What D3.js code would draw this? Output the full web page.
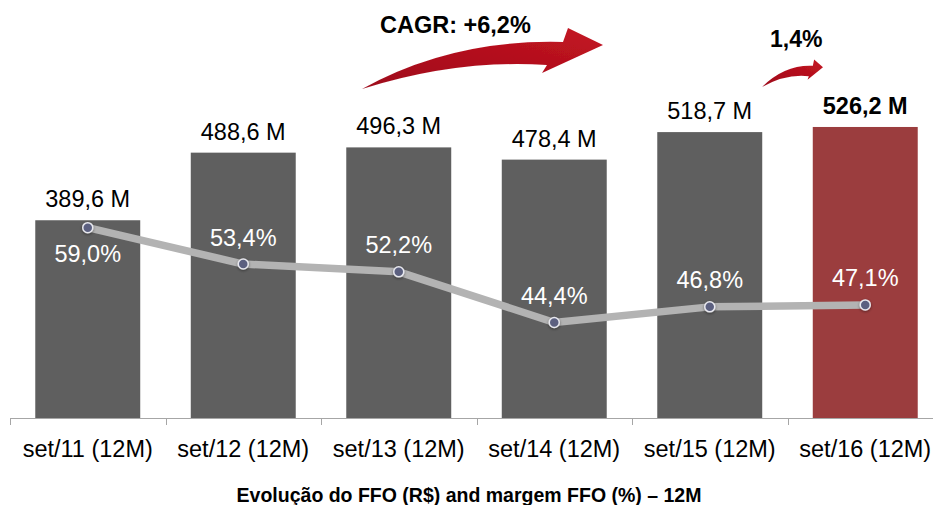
<!DOCTYPE html>
<html>
<head>
<meta charset="utf-8">
<script src="https://cdn.jsdelivr.net/npm/d3@7"></script>
<style>
  html, body { margin: 0; padding: 0; background: #ffffff; }
  svg { display: block; font-family: "Liberation Sans", Arial, sans-serif; }
</style>
</head>
<body>
<svg id="chart" width="933" height="505"></svg>
<script>
// FFO per 12-month period (R$ millions) and FFO margin (%)
const categories = ["set/11 (12M)", "set/12 (12M)", "set/13 (12M)", "set/14 (12M)", "set/15 (12M)", "set/16 (12M)"];
const ffoValues = [389.6, 488.6, 496.3, 478.4, 518.7, 526.2];
const ffoLabels = ["389,6 M", "488,6 M", "496,3 M", "478,4 M", "518,7 M", "526,2 M"];
const marginValues = [59.0, 53.4, 52.2, 44.4, 46.8, 47.1];
const marginLabels = ["59,0%", "53,4%", "52,2%", "44,4%", "46,8%", "47,1%"];
const cagrLabel = "CAGR: +6,2%";
const lastGrowthLabel = "1,4%";
const title = "Evolução do FFO (R$) and margem FFO (%) – 12M";

const svg = d3.select("#chart");
const baseY = 418;

const x = d3.scaleBand()
  .domain(categories)
  .range([10, 943])
  .paddingInner(0.325)
  .paddingOuter(0.1625);

const y = d3.scaleLinear().domain([100, 700]).range([baseY, 8.3]);
const yMargin = d3.scaleLinear().domain([20, 60]).range([480.8, 221.2]);

const cx = d => x(d) + x.bandwidth() / 2;

// defs: arrow gradient and marker shadow
const defs = svg.append("defs");
const grad = defs.append("linearGradient").attr("id", "arrowGrad")
  .attr("x1", "0").attr("y1", "1").attr("x2", "1").attr("y2", "0");
grad.append("stop").attr("offset", "0").attr("stop-color", "#9e0f1c");
grad.append("stop").attr("offset", "0.6").attr("stop-color", "#b5101e");
grad.append("stop").attr("offset", "1").attr("stop-color", "#c41622");
const soft = defs.append("filter").attr("id", "soft").attr("x", "-10%").attr("y", "-10%").attr("width", "120%").attr("height", "120%");
soft.append("feGaussianBlur").attr("stdDeviation", 0.6);
const shadow = defs.append("filter").attr("id", "dotShadow").attr("x", "-100%").attr("y", "-100%").attr("width", "300%").attr("height", "300%");
shadow.append("feGaussianBlur").attr("in", "SourceAlpha").attr("stdDeviation", 1.6).attr("result", "b");
shadow.append("feOffset").attr("in", "b").attr("dx", 0).attr("dy", 1).attr("result", "o");
shadow.append("feComponentTransfer").attr("in", "o").attr("result", "s")
  .append("feFuncA").attr("type", "linear").attr("slope", 0.45);
const merge = shadow.append("feMerge");
merge.append("feMergeNode").attr("in", "s");
merge.append("feMergeNode").attr("in", "SourceGraphic");

// bars
svg.append("g").selectAll("rect")
  .data(categories)
  .join("rect")
  .attr("x", d => x(d))
  .attr("y", (d, i) => y(ffoValues[i]))
  .attr("width", x.bandwidth())
  .attr("height", (d, i) => baseY - y(ffoValues[i]))
  .attr("fill", (d, i) => i === categories.length - 1 ? "#9b3d3e" : "#5f5f5f");

// bar value labels
svg.append("g").selectAll("text")
  .data(categories)
  .join("text")
  .attr("x", d => cx(d))
  .attr("y", (d, i) => y(ffoValues[i]) - 13)
  .attr("text-anchor", "middle")
  .attr("font-size", 23.5)
  .attr("font-weight", (d, i) => i === categories.length - 1 ? "bold" : "normal")
  .attr("fill", "#000")
  .text((d, i) => ffoLabels[i]);

// category axis
const axisG = svg.append("g").attr("transform", `translate(0,${baseY})`);
axisG.append("line")
  .attr("x1", 10).attr("x2", 943).attr("y1", 0.5).attr("y2", 0.5)
  .attr("stroke", "#a6a6a6").attr("stroke-width", 1);
const step = x.step();
const boundaries = categories.map(d => x(d) - x.paddingInner() * step / 2).concat([x.range()[1]]);
axisG.selectAll("line.tick")
  .data(boundaries)
  .join("line")
  .attr("class", "tick")
  .attr("x1", d => Math.round(d) + 0.5).attr("x2", d => Math.round(d) + 0.5)
  .attr("y1", 0).attr("y2", 7)
  .attr("stroke", "#a6a6a6");
axisG.selectAll("text")
  .data(categories)
  .join("text")
  .attr("x", d => cx(d))
  .attr("y", 39)
  .attr("text-anchor", "middle")
  .attr("font-size", 23.5)
  .attr("fill", "#000")
  .text(d => d);

// margin line
const line = d3.line()
  .x((d, i) => cx(categories[i]))
  .y(d => yMargin(d));
svg.append("path")
  .datum(marginValues)
  .attr("d", line)
  .attr("fill", "none")
  .attr("stroke", "#b3b3b3")
  .attr("stroke-width", 7.5)
  .attr("stroke-linejoin", "round");

svg.append("g").selectAll("circle")
  .data(marginValues)
  .join("circle")
  .attr("cx", (d, i) => cx(categories[i]))
  .attr("cy", d => yMargin(d))
  .attr("r", 5)
  .attr("fill", "#5b6180")
  .attr("stroke", "#e8e8ee")
  .attr("stroke-width", 1.5)
  .attr("filter", "url(#dotShadow)");

// margin labels (first one sits below its point)
svg.append("g").selectAll("text")
  .data(marginValues)
  .join("text")
  .attr("x", (d, i) => cx(categories[i]))
  .attr("y", (d, i) => yMargin(d) + (i === 0 ? 34 : -18.5))
  .attr("text-anchor", "middle")
  .attr("font-size", 23.5)
  .attr("fill", "#ffffff")
  .text((d, i) => marginLabels[i]);

// curved growth arrow, drawn with its tail at the origin
function arrowPath() {
  const p = d3.path();
  p.moveTo(0, 0);
  p.quadraticCurveTo(90, -50, 201, -47);
  p.lineTo(206, -61);
  p.lineTo(241, -44);
  p.lineTo(180, -16);
  p.lineTo(185, -24);
  p.quadraticCurveTo(95, -30, 0, 0);
  p.closePath();
  return p.toString();
}
svg.append("path")
  .attr("d", arrowPath())
  .attr("transform", "translate(362,89)")
  .attr("fill", "url(#arrowGrad)")
  .attr("filter", "url(#soft)");
svg.append("path")
  .attr("d", arrowPath())
  .attr("transform", "translate(762,87) scale(0.253,0.45)")
  .attr("fill", "url(#arrowGrad)")
  .attr("filter", "url(#soft)");

svg.append("text")
  .attr("x", 380).attr("y", 33)
  .attr("font-size", 23.5).attr("font-weight", "bold")
  .text(cagrLabel);
svg.append("text")
  .attr("x", 770).attr("y", 47)
  .attr("font-size", 23).attr("font-weight", "bold")
  .text(lastGrowthLabel);

// title
svg.append("text")
  .attr("x", 469).attr("y", 502)
  .attr("text-anchor", "middle")
  .attr("font-size", 19.5).attr("font-weight", "bold")
  .text(title);
</script>
</body>
</html>
